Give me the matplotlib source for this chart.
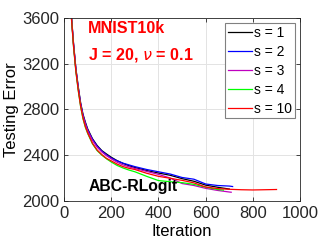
import matplotlib
matplotlib.use("Agg")
import matplotlib.pyplot as plt

plt.rcParams['font.family'] = ['Liberation Sans', 'DejaVu Sans']

# iterations and testing errors
it_black = [1, 20, 30, 40, 50, 60, 70, 80, 90, 100, 120, 140, 160, 180, 200, 225, 250, 275, 300, 350, 400, 450, 500, 550, 600, 650, 700]
err_black = [6500, 4200, 3650, 3380, 3160, 3000, 2860, 2760, 2690, 2630, 2545, 2485, 2440, 2410, 2382, 2352, 2328, 2308, 2292, 2266, 2244, 2224, 2195, 2172, 2138, 2120, 2104]

it_blue = [1, 20, 30, 40, 50, 60, 70, 80, 90, 100, 120, 140, 160, 180, 200, 225, 250, 275, 300, 350, 400, 450, 500, 550, 600, 650, 700, 714]
err_blue = [6500, 4200, 3640, 3370, 3150, 2990, 2850, 2750, 2680, 2620, 2540, 2478, 2435, 2402, 2375, 2350, 2330, 2315, 2300, 2275, 2255, 2235, 2205, 2190, 2148, 2135, 2130, 2126]

it_mag = [1, 20, 30, 40, 50, 60, 70, 80, 90, 100, 120, 140, 160, 180, 200, 225, 250, 275, 300, 350, 400, 450, 500, 550, 600, 650, 700, 708]
err_mag = [6500, 4200, 3640, 3370, 3150, 2985, 2845, 2745, 2675, 2615, 2530, 2470, 2428, 2395, 2368, 2338, 2315, 2298, 2284, 2258, 2232, 2200, 2152, 2135, 2110, 2092, 2078, 2076]

it_green = [1, 20, 30, 40, 50, 60, 70, 80, 90, 100, 120, 140, 160, 180, 200, 225, 250, 275, 300, 350, 400, 450, 500, 550, 600, 650, 675]
err_green = [6500, 4200, 3630, 3350, 3130, 2965, 2825, 2720, 2645, 2590, 2500, 2440, 2400, 2368, 2340, 2310, 2288, 2270, 2255, 2215, 2178, 2168, 2160, 2145, 2120, 2100, 2095]

it_red = [1, 20, 30, 40, 50, 60, 70, 80, 90, 100, 120, 140, 160, 180, 200, 225, 250, 275, 300, 350, 400, 450, 500, 550, 600, 650, 700, 750, 800, 850, 900]
err_red = [6500, 4200, 3630, 3355, 3135, 2970, 2830, 2725, 2650, 2595, 2505, 2445, 2405, 2372, 2350, 2322, 2300, 2285, 2275, 2242, 2215, 2198, 2180, 2158, 2122, 2108, 2102, 2098, 2096, 2098, 2100]

labels = ['s = 1', 's = 2', 's = 3', 's = 4', 's = 10']
colors = ['k', 'b', 'm', (0, 1, 0), 'r']

fig = plt.figure(figsize=(3.32, 2.49), dpi=100)
ax = fig.add_axes([0.193, 0.193, 0.711, 0.735])

series = [(it_black, err_black), (it_blue, err_blue), (it_mag, err_mag), (it_green, err_green), (it_red, err_red)]
for (x, y), lab, c in zip(series, labels, colors):
    ax.plot(x, y, color=c, lw=0.9, label=lab)

ax.set_xlim(0, 1000)
ax.set_ylim(2000, 3600)
ax.set_xticks([0, 200, 400, 600, 800, 1000])
ax.set_yticks([2000, 2400, 2800, 3200, 3600])
ax.grid(True, color='#e3e3e3', lw=0.7)
ax.set_axisbelow(True)
ax.tick_params(direction='in', top=True, right=True, labelsize=12, length=3, colors='#262626', width=0.6)
for sp in ax.spines.values():
    sp.set_color('#262626')
    sp.set_linewidth(0.6)
ax.set_xlabel('Iteration', fontsize=12, labelpad=2)
ax.set_ylabel('Testing Error', fontsize=12, labelpad=2)

ax.text(102, 3504, 'MNIST10k', color='r', fontsize=11.6, fontweight='bold', va='center', ha='left')
ax.text(102, 3277, r'J = 20, $\nu$ = 0.1', color='r', fontsize=11.6, fontweight='bold', va='center', ha='left')
ax.text(102, 2122, 'ABC-RLogit', color='k', fontsize=11.3, fontweight='bold', va='center', ha='left')

leg = ax.legend(loc='upper right', fontsize=10, handlelength=1.7, handletextpad=0.15,
                borderaxespad=0.4, fancybox=False, framealpha=1, edgecolor='#808080',
                borderpad=0.2, labelspacing=0.35)
leg.get_frame().set_linewidth(0.8)

fig.savefig('out.png', dpi=100)
